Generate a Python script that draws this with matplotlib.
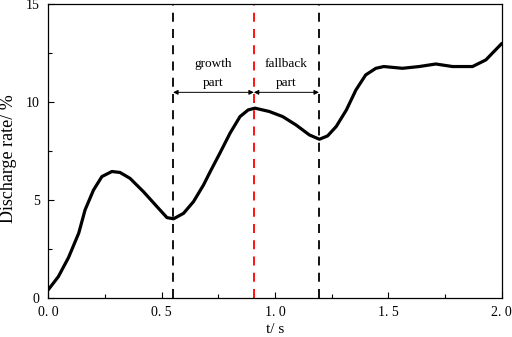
import matplotlib

matplotlib.use("Agg")
import matplotlib.pyplot as plt
from matplotlib.ticker import FixedLocator, MultipleLocator

# curve
t = [0.0, 0.045, 0.09, 0.135, 0.163, 0.2, 0.237, 0.281, 0.317, 0.361, 0.42,
     0.48, 0.524, 0.553, 0.597, 0.641, 0.685, 0.715, 0.76, 0.802, 0.846, 0.882,
     0.912, 0.975, 1.034, 1.093, 1.152, 1.196, 1.232, 1.27, 1.315, 1.357, 1.40,
     1.445, 1.48, 1.562, 1.636, 1.709, 1.783, 1.871, 1.93, 2.0]
rate = [0.39, 1.07, 2.05, 3.3, 4.49, 5.5, 6.19, 6.45, 6.4, 6.1, 5.42,
        4.65, 4.09, 4.03, 4.31, 4.91, 5.76, 6.45, 7.45, 8.41, 9.26, 9.6,
        9.69, 9.52, 9.26, 8.83, 8.32, 8.1, 8.27, 8.75, 9.6, 10.62, 11.39,
        11.73, 11.82, 11.73, 11.82, 11.95, 11.82, 11.82, 12.16, 13.0]

t_start, t_peak, t_end = 0.551, 0.907, 1.194
arrow_y = 10.5
xticks = [0.0, 0.5, 1.0, 1.5, 2.0]
xtick_labels = ["0. 0", "0. 5", "1. 0", "1. 5", "2. 0"]
yticks = [0, 5, 10, 15]

plt.rcParams["font.family"] = ["Liberation Serif", "DejaVu Serif"]

fig = plt.figure(figsize=(5.12, 3.37), dpi=100)
ax = fig.add_axes([0.094, 0.117, 0.886, 0.870])

ax.plot(t, rate, color="black", linewidth=2.3, solid_capstyle="round",
        solid_joinstyle="round")

dash = (0, (5, 4))
ax.axvline(t_start, color="black", linestyle=dash, linewidth=1.3)
ax.axvline(t_peak, color="red", linestyle=dash, linewidth=1.3)
ax.axvline(t_end, color="black", linestyle=dash, linewidth=1.3)

arrow = dict(arrowstyle="<|-|>", color="black", linewidth=0.7,
             mutation_scale=7, shrinkA=0, shrinkB=0)
ax.annotate("", xy=(t_start, arrow_y), xytext=(t_peak, arrow_y), arrowprops=arrow)
ax.annotate("", xy=(t_peak, arrow_y), xytext=(t_end, arrow_y), arrowprops=arrow)

ax.text((t_start + t_peak) / 2, 11.95, "growth", ha="center", va="center", fontsize=9.5)
ax.text((t_start + t_peak) / 2, 10.98, "part", ha="center", va="center", fontsize=9.5)
ax.text((t_peak + t_end) / 2, 11.95, "fallback", ha="center", va="center", fontsize=9.5)
ax.text((t_peak + t_end) / 2, 10.98, "part", ha="center", va="center", fontsize=9.5)

ax.set_xlim(0, 2.0)
ax.set_ylim(0, 15)
ax.xaxis.set_major_locator(FixedLocator(xticks))
ax.set_xticklabels(xtick_labels)
ax.xaxis.set_minor_locator(MultipleLocator(0.25))
ax.set_yticks(yticks)
ax.yaxis.set_minor_locator(MultipleLocator(2.5))
ax.tick_params(which="both", direction="in", top=False, right=False,
               labelsize=10, width=0.8, pad=6)
ax.tick_params(which="major", length=4)
ax.tick_params(which="minor", length=3)
for s in ax.spines.values():
    s.set_linewidth(0.9)

ax.set_xlabel("t/ s", fontsize=11, labelpad=3)
ax.set_ylabel("Discharge rate/ %", fontsize=13, va="center")
ax.yaxis.set_label_coords(-0.088, 0.473)

fig.savefig("out.png", dpi=100)
